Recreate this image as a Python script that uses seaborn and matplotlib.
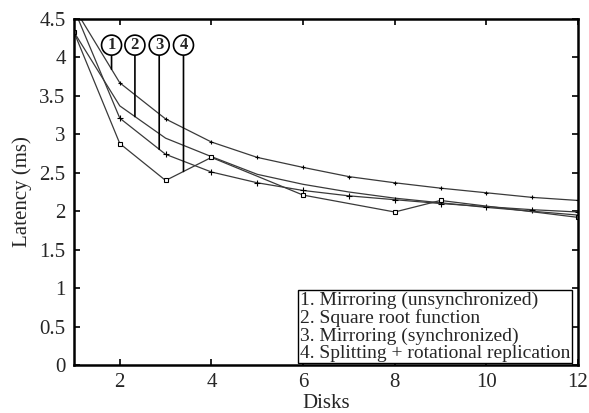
import numpy as np
import pandas as pd
import seaborn as sns
from matplotlib import pyplot as plt

# data
disks = [1, 2, 3, 4, 5, 6, 7, 8, 9, 10, 11, 12]
mirror_unsync = [4.65, 3.67, 3.20, 2.90, 2.70, 2.57, 2.45, 2.37, 2.30, 2.24, 2.18, 2.14]
sqrt_func = [4.33, 3.37, 2.95, 2.71, 2.48, 2.35, 2.25, 2.17, 2.11, 2.05, 2.00, 1.95]
mirror_sync = [4.63, 3.21, 2.74, 2.51, 2.37, 2.27, 2.20, 2.15, 2.10, 2.06, 2.02, 1.99]
split_disks = [1, 2, 3, 4, 6, 8, 9, 12]
split_rot = [4.33, 2.88, 2.40, 2.70, 2.21, 1.99, 2.14, 1.92]

legend_labels = ["1. Mirroring (unsynchronized)",
                 "2. Square root function",
                 "3. Mirroring (synchronized)",
                 "4. Splitting + rotational replication"]
x_ticks = [2, 4, 6, 8, 10, 12]
y_ticks = [0, 0.5, 1, 1.5, 2, 2.5, 3, 3.5, 4, 4.5]

sns.set_style("ticks")
plt.rcParams['font.family'] = ['Liberation Serif', 'DejaVu Serif']

fig = plt.figure(figsize=(5.89, 4.13), dpi=100)
ax = fig.add_axes([0.1256, 0.1162, 0.9813 - 0.1256, 0.954 - 0.1162])

line_col = "#3a3a3a"
series = [
    (disks, mirror_unsync, "+", 3.5, line_col),
    (disks, sqrt_func, None, 0, line_col),
    (disks, mirror_sync, "+", 4.5, line_col),
    (split_disks, split_rot, "s", 2.5, "white"),
]
for xs, ys, mk, ms, fc in series:
    df = pd.DataFrame({"x": xs, "y": ys})
    sns.lineplot(data=df, x="x", y="y", ax=ax, color=line_col, lw=0.9,
                 marker=mk, markersize=ms, markerfacecolor=fc,
                 markeredgecolor="black", markeredgewidth=0.8)

# circled series numbers with pointer lines
circ_x = [1.82, 2.33, 2.86, 3.39]
circ_y = 4.16
for i, (xs, ys, *_rest) in enumerate(series):
    yend = np.interp(circ_x[i], xs, ys)
    ax.annotate(str(i + 1), xy=(circ_x[i], yend), xytext=(circ_x[i], circ_y),
                ha="center", va="center", fontsize=12, fontweight="bold",
                bbox=dict(boxstyle="circle,pad=0.12", fc="white", ec="black", lw=1.2),
                arrowprops=dict(arrowstyle="-", color="black", lw=1.2,
                                shrinkA=0, shrinkB=0))

ax.text(0.985, 0.01, "\n".join(legend_labels), transform=ax.transAxes,
        ha="right", va="bottom", multialignment="left", fontsize=14,
        linespacing=1.0,
        bbox=dict(boxstyle="square,pad=0.1", fc="white", ec="black", lw=1.0))

ax.set_xlim(1, 12)
ax.set_ylim(0, 4.5)
ax.set_xticks(x_ticks)
ax.set_yticks(y_ticks)
ax.set_yticklabels(["%g" % v for v in y_ticks])
ax.tick_params(direction="in", length=4, width=1.2, top=True, right=True,
               labelsize=15, pad=6, color="black")
for s in ax.spines.values():
    s.set_linewidth(1.8)
    s.set_color("black")
ax.set_xlabel("Disks", fontsize=15, labelpad=1)
ax.set_ylabel("Latency (ms)", fontsize=15, labelpad=5)

fig.savefig("out.png", dpi=100)
